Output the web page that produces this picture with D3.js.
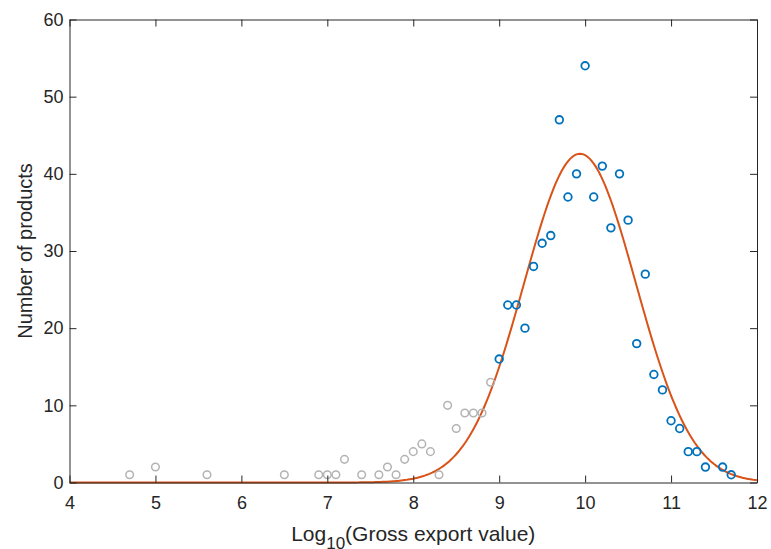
<!DOCTYPE html>
<html>
<head>
<meta charset="utf-8">
<script src="https://cdn.jsdelivr.net/npm/d3@7"></script>
<style>
  body { margin: 0; background: #fff; }
  text { font-family: "Liberation Sans", Arial, sans-serif; fill: #262626; }
</style>
</head>
<body>
<svg id="chart" width="771" height="549"></svg>
<script>
// observations below the fit cut-off (grey)
const lowX = [4.7, 5.0, 5.6, 6.5, 6.9, 7.0, 7.1, 7.2, 7.4, 7.6, 7.7, 7.8, 7.9, 8.0, 8.1, 8.2, 8.3, 8.4, 8.5, 8.6, 8.7, 8.8, 8.9];
const lowY = [1, 2, 1, 1, 1, 1, 1, 3, 1, 1, 2, 1, 3, 4, 5, 4, 1, 10, 7, 9, 9, 9, 13];

// observations used in the fit (blue)
const fitX = [9.0, 9.1, 9.2, 9.3, 9.4, 9.5, 9.6, 9.7, 9.8, 9.9, 10.0, 10.1, 10.2, 10.3, 10.4, 10.5, 10.6, 10.7, 10.8, 10.9, 11.0, 11.1, 11.2, 11.3, 11.4, 11.6, 11.7];
const fitY = [16, 23, 23, 20, 28, 31, 32, 47, 37, 40, 54, 37, 41, 33, 40, 34, 18, 27, 14, 12, 8, 7, 4, 4, 2, 2, 1];

// normal fit parameters
const fitAmp = 42.6, fitMean = 9.94, fitSigma = 0.65;

const xTicks = [4, 5, 6, 7, 8, 9, 10, 11, 12];
const yTicks = [0, 10, 20, 30, 40, 50, 60];

const svg = d3.select("#chart");
const x = d3.scaleLinear().domain([4, 12]).range([69.5, 757]);
const y = d3.scaleLinear().domain([0, 60]).range([482.5, 19.5]);
const axisColor = "#262626";
const tickLen = 7;

// curve
let curve = d3.range(4, 12.0001, 0.02).map(v => [v, fitAmp * Math.exp(-((v - fitMean) ** 2) / (2 * fitSigma * fitSigma))]);
svg.append("path")
    .datum(curve)
    .attr("fill", "none")
    .attr("stroke", "#D95319")
    .attr("stroke-width", 2)
    .attr("d", d3.line().x(d => x(d[0])).y(d => y(d[1])));

// grey points
svg.append("g").selectAll("circle")
    .data(lowX.map((v, i) => [v, lowY[i]]))
    .join("circle")
    .attr("cx", d => x(d[0]))
    .attr("cy", d => y(d[1]))
    .attr("r", 3.8)
    .attr("fill", "none")
    .attr("stroke", "#b3b3b3")
    .attr("stroke-width", 1.5);

// blue points
svg.append("g").selectAll("circle")
    .data(fitX.map((v, i) => [v, fitY[i]]))
    .join("circle")
    .attr("cx", d => x(d[0]))
    .attr("cy", d => y(d[1]))
    .attr("r", 3.8)
    .attr("fill", "none")
    .attr("stroke", "#0072BD")
    .attr("stroke-width", 1.8);

// axes
const axBottom = d3.axisBottom(x).tickValues(xTicks).tickSizeInner(-tickLen).tickSizeOuter(0).tickPadding(14);
const axLeft = d3.axisLeft(y).tickValues(yTicks).tickSizeInner(-tickLen).tickSizeOuter(0).tickPadding(6);
const axTop = d3.axisTop(x).tickValues(xTicks).tickSizeInner(-tickLen).tickSizeOuter(0).tickFormat("");
const axRight = d3.axisRight(y).tickValues(yTicks).tickSizeInner(-tickLen).tickSizeOuter(0).tickFormat("");

function styleAxis(g) {
    g.selectAll("path, line").attr("stroke", axisColor);
    g.selectAll("text").attr("fill", axisColor).style("font-size", "18px").style("font-family", "'Liberation Sans', Arial, sans-serif");
}
svg.append("g").attr("transform", `translate(0,${y(0)})`).call(axBottom).call(styleAxis);
svg.append("g").attr("transform", `translate(${x(4)},0)`).call(axLeft).call(styleAxis);
svg.append("g").attr("transform", `translate(0,${y(60)})`).call(axTop).call(styleAxis);
svg.append("g").attr("transform", `translate(${x(12)},0)`).call(axRight).call(styleAxis);

// axis labels
let xl = svg.append("text")
    .attr("x", (x(4) + x(12)) / 2)
    .attr("y", 540.5)
    .attr("text-anchor", "middle")
    .style("font-size", "21px");
xl.append("tspan").text("Log");
xl.append("tspan").attr("dy", 8).style("font-size", "17px").text("10");
xl.append("tspan").attr("dy", -8).text("(Gross export value)");

svg.append("text")
    .attr("transform", `translate(32,${(y(0) + y(60)) / 2}) rotate(-90)`)
    .attr("text-anchor", "middle")
    .style("font-size", "20px")
    .text("Number of products");
</script>
</body>
</html>
